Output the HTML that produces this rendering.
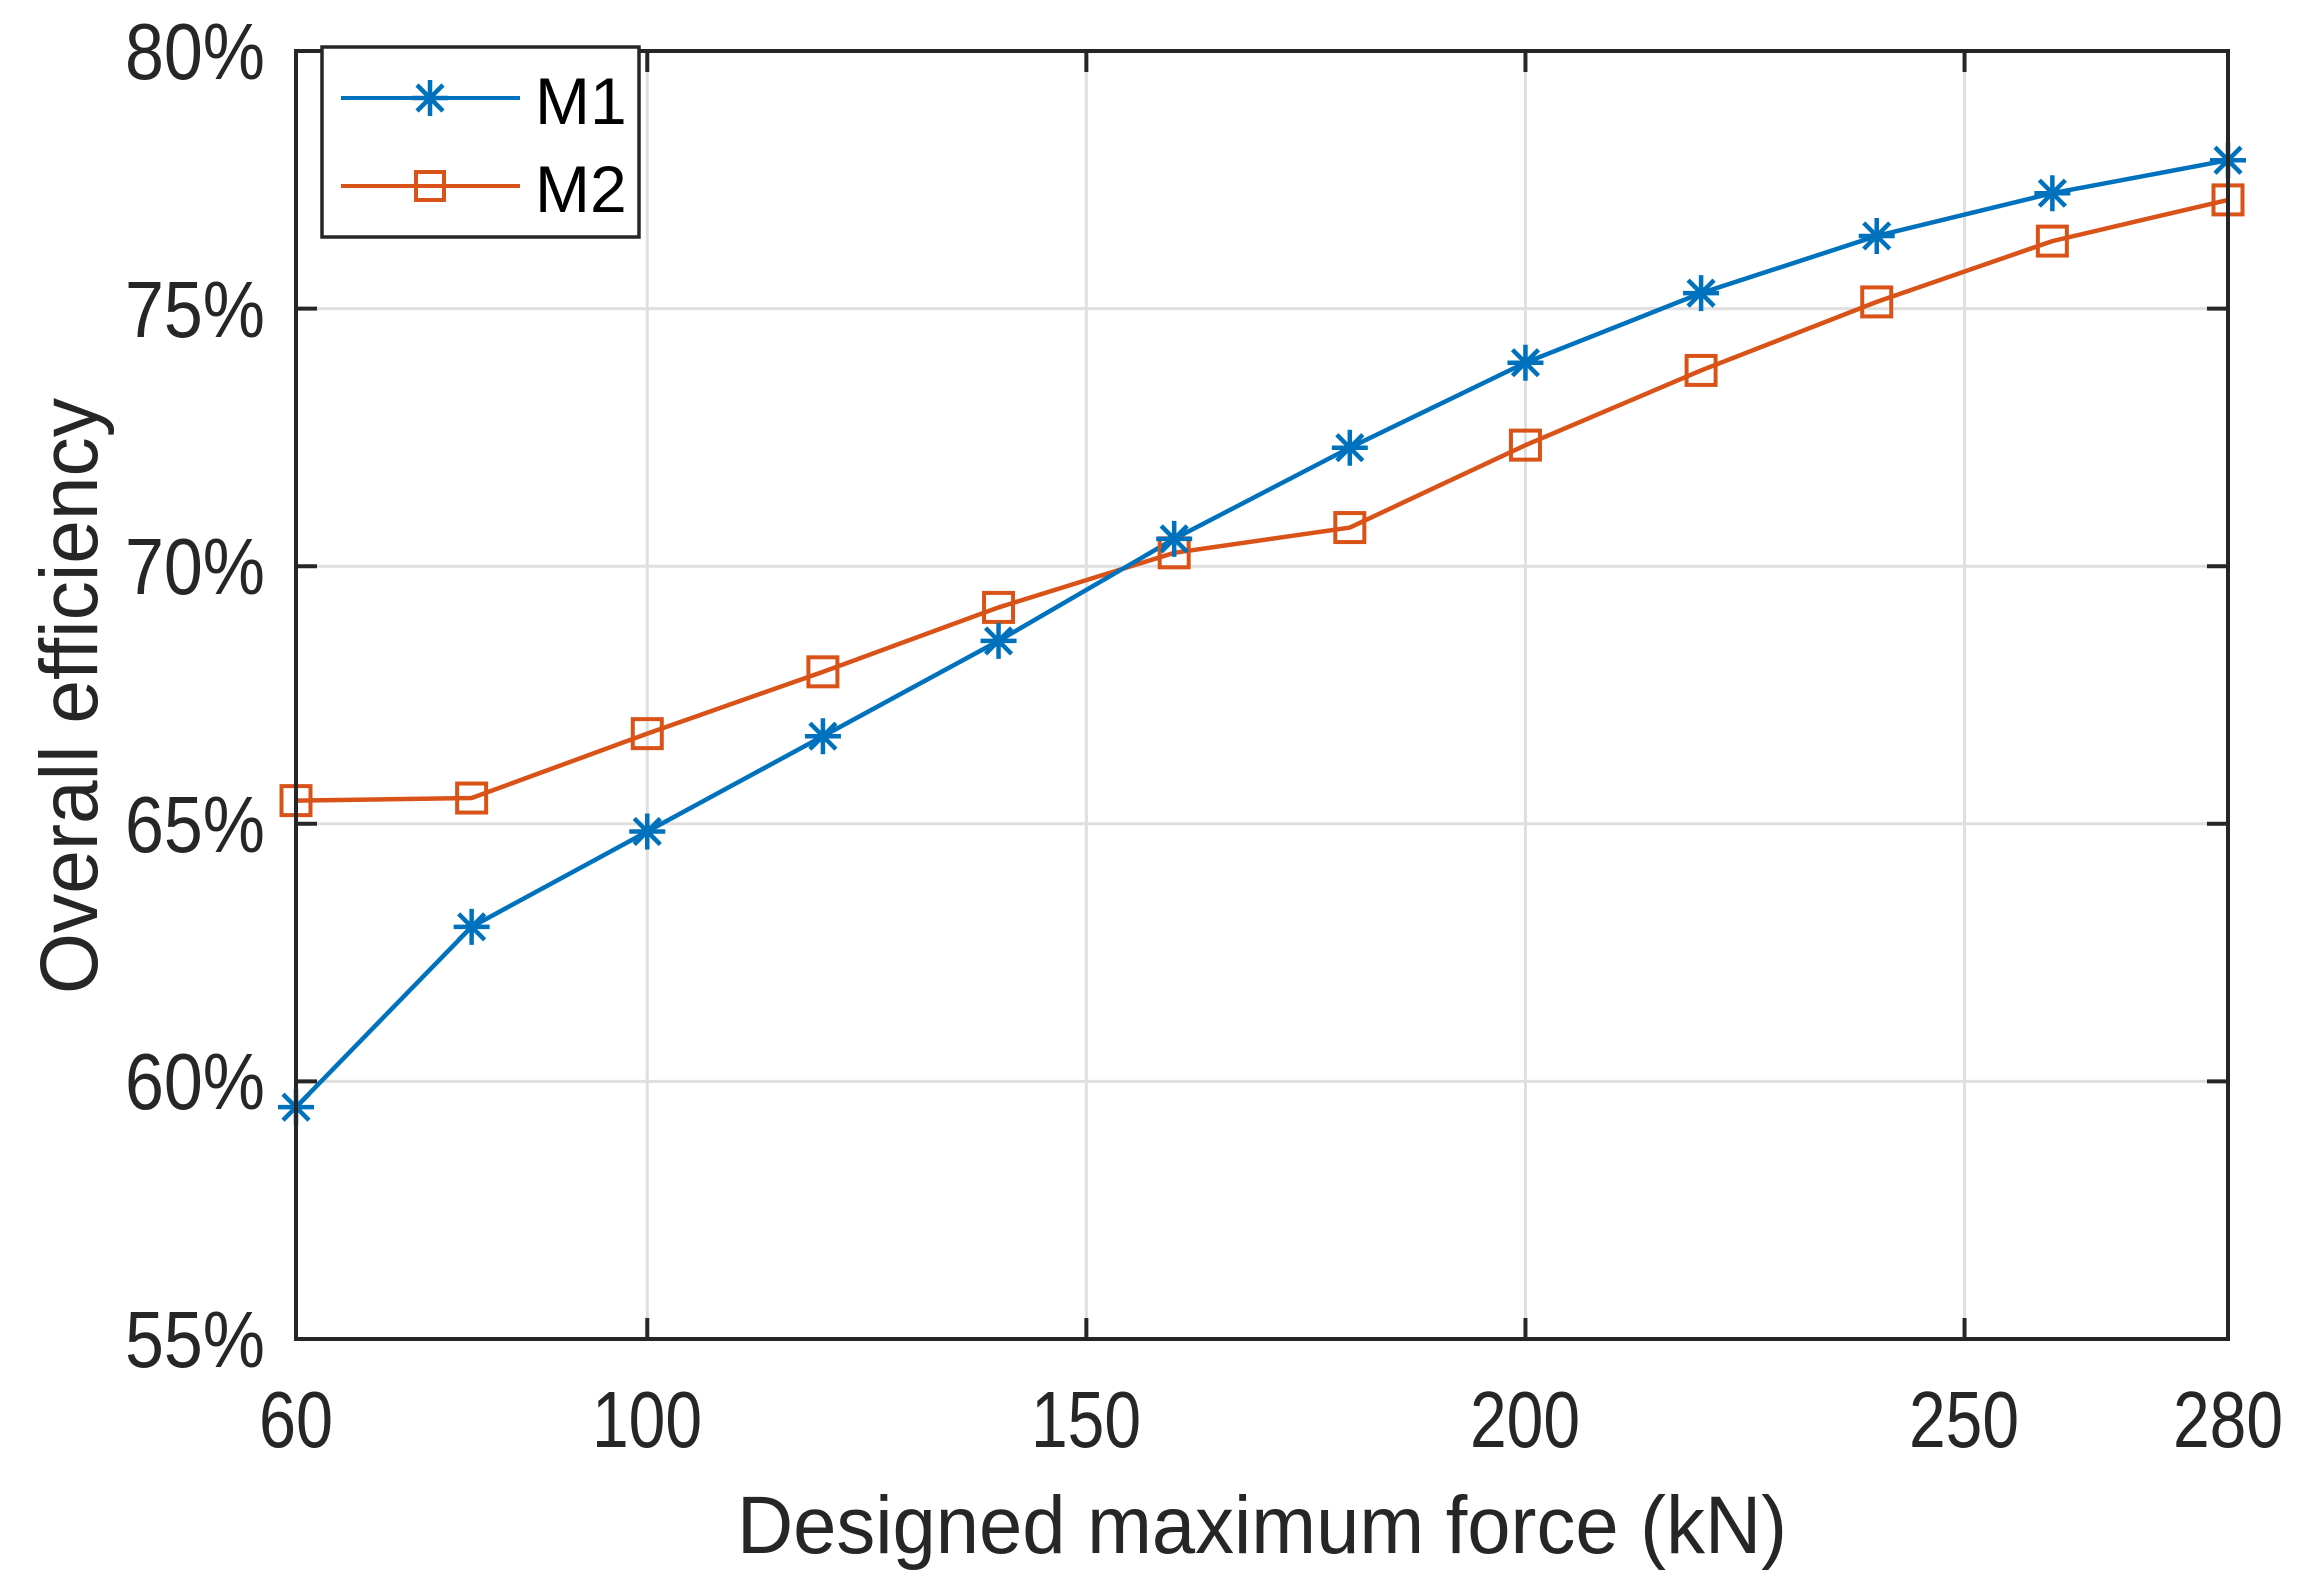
<!DOCTYPE html>
<html><head><meta charset="utf-8"><style>
html,body{margin:0;padding:0;background:#fff;}
svg{display:block;}
text{font-family:"Liberation Sans",Arial,sans-serif;fill:#262626;}
</style></head><body>
<svg id="s" width="2309" height="1570" viewBox="0 0 2309 1570" xmlns="http://www.w3.org/2000/svg">
<rect width="2309" height="1570" fill="#fff"/>
<g id="grid" stroke="#dfdfdf" stroke-width="3"></g>
<g id="data"></g>
<rect x="296" y="51" width="1932" height="1288" fill="none" stroke="#262626" stroke-width="4"/>
<g id="ticks" stroke="#262626" stroke-width="4"></g>
<g font-size="80" text-anchor="end">
<text x="265" y="1367" textLength="140" lengthAdjust="spacingAndGlyphs">55%</text>
<text x="265" y="1109" textLength="140" lengthAdjust="spacingAndGlyphs">60%</text>
<text x="265" y="852" textLength="140" lengthAdjust="spacingAndGlyphs">65%</text>
<text x="265" y="594" textLength="140" lengthAdjust="spacingAndGlyphs">70%</text>
<text x="265" y="337" textLength="140" lengthAdjust="spacingAndGlyphs">75%</text>
<text x="265" y="79" textLength="140" lengthAdjust="spacingAndGlyphs">80%</text>
</g>
<g font-size="80" text-anchor="middle">
<text x="296" y="1447" textLength="74" lengthAdjust="spacingAndGlyphs">60</text>
<text x="647" y="1447" textLength="110" lengthAdjust="spacingAndGlyphs">100</text>
<text x="1086" y="1447" textLength="110" lengthAdjust="spacingAndGlyphs">150</text>
<text x="1525" y="1447" textLength="110" lengthAdjust="spacingAndGlyphs">200</text>
<text x="1964" y="1447" textLength="110" lengthAdjust="spacingAndGlyphs">250</text>
<text x="2228" y="1447" textLength="110" lengthAdjust="spacingAndGlyphs">280</text>
</g>
<text x="1262" y="1553" font-size="82" text-anchor="middle" textLength="1050" lengthAdjust="spacingAndGlyphs">Designed maximum force (kN)</text>
<text transform="translate(97,696) rotate(-90)" font-size="82" text-anchor="middle" textLength="596" lengthAdjust="spacingAndGlyphs">Overall efficiency</text>
<rect x="322" y="47" width="317" height="190" fill="#fff" stroke="#262626" stroke-width="3.5"/>
<line x1="341" y1="98" x2="520" y2="98" stroke="#0072bd" stroke-width="4"/>
<g id="lm1"></g>
<line x1="341" y1="186" x2="520" y2="186" stroke="#d95319" stroke-width="4"/>
<rect x="416" y="172" width="28" height="28" fill="none" stroke="#d95319" stroke-width="4"/>
<text x="535" y="124" font-size="66" style="fill:#000">M1</text>
<text x="535" y="212" font-size="66" style="fill:#000">M2</text>
</svg>
<script>
var ns="http://www.w3.org/2000/svg";
function el(p,t,a){var e=document.createElementNS(ns,t);for(var k in a)e.setAttribute(k,a[k]);p.appendChild(e);return e;}
function X(v){return 296+(v-60)*1932/220;}
function Y(v){return 1339-(v-55)*51.52;}
var g=document.getElementById('grid'),tk=document.getElementById('ticks'),d=document.getElementById('data');
[100,150,200,250].forEach(function(v){el(g,'line',{x1:X(v),x2:X(v),y1:53,y2:1337});});
[60,65,70,75].forEach(function(v){el(g,'line',{x1:298,x2:2226,y1:Y(v),y2:Y(v)});});
[100,150,200,250].forEach(function(v){el(tk,'line',{x1:X(v),x2:X(v),y1:1339,y2:1318});el(tk,'line',{x1:X(v),x2:X(v),y1:51,y2:72});});
[60,65,70,75].forEach(function(v){el(tk,'line',{x1:296,x2:317,y1:Y(v),y2:Y(v)});el(tk,'line',{x1:2228,x2:2207,y1:Y(v),y2:Y(v)});});
var xs=[60,80,100,120,140,160,180,200,220,240,260,280];
var m1=[59.5,63.0,64.85,66.7,68.55,70.53,72.3,73.95,75.3,76.41,77.24,77.88];
var m2=[65.45,65.5,66.75,67.95,69.2,70.26,70.75,72.35,73.8,75.13,76.31,77.11];
function pts(a){return xs.map(function(x,i){return X(x)+','+Y(a[i]);}).join(' ');}
el(d,'polyline',{points:pts(m2),fill:'none',stroke:'#d95319','stroke-width':4.5});
el(d,'polyline',{points:pts(m1),fill:'none',stroke:'#0072bd','stroke-width':4.5});
function star(p,x,y){var r=18,q=13;
 var s='M'+(x-r)+','+y+'h'+2*r+'M'+x+','+(y-r)+'v'+2*r+'M'+(x-q)+','+(y-q)+'L'+(x+q)+','+(y+q)+'M'+(x-q)+','+(y+q)+'L'+(x+q)+','+(y-q);
 el(p,'path',{d:s,stroke:'#0072bd','stroke-width':4.5,fill:'none'});}
xs.forEach(function(x,i){el(d,'rect',{x:X(x)-14.5,y:Y(m2[i])-14.5,width:29,height:29,fill:'none',stroke:'#d95319','stroke-width':4});});
xs.forEach(function(x,i){star(d,X(x),Y(m1[i]));});
star(document.getElementById('lm1'),430,98);
</script>
</body></html>
